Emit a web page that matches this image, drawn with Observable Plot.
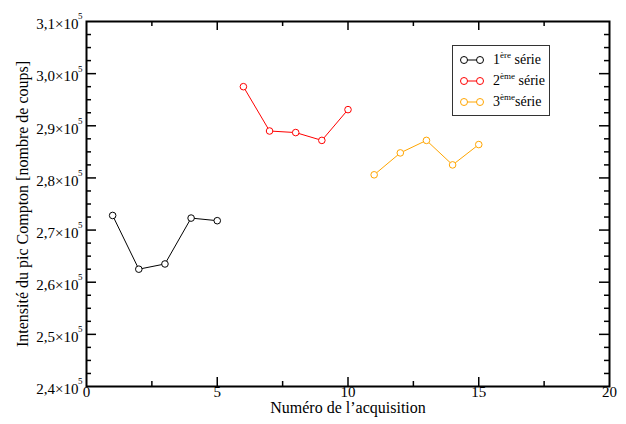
<!DOCTYPE html>
<html>
<head>
<meta charset="utf-8">
<script src="https://cdn.jsdelivr.net/npm/d3@7"></script>
<script src="https://cdn.jsdelivr.net/npm/@observablehq/plot@0.6"></script>
<style>
  html, body { margin: 0; padding: 0; background: #fff; }
  #wrap { position: relative; width: 626px; height: 424px; font-family: "Liberation Serif", "DejaVu Serif", serif; }
  #legend { position: absolute; left: 452px; top: 45px; width: 96px; height: 69px; border: 1.5px solid #333; background: #fff; box-sizing: content-box; }
  .row { position: absolute; left: 0; height: 20px; display: flex; align-items: center; font-size: 14px; white-space: nowrap; }
  .row svg { margin-left: 7px; margin-right: 9px; }
  .row sup { font-size: 9px; vertical-align: 0; position: relative; top: -6px; }
</style>
</head>
<body>
<div id="wrap"></div>
<script>
// Data
const acquisitions1 = [1, 2, 3, 4, 5];
const serie1 = [272800, 262500, 263500, 272300, 271800];
const acquisitions2 = [6, 7, 8, 9, 10];
const serie2 = [297500, 289000, 288700, 287200, 293100];
const acquisitions3 = [11, 12, 13, 14, 15];
const serie3 = [280600, 284800, 287200, 282500, 286400];
const seriesNames = ["1ère série", "2ème série", "3ème série"];
const seriesColors = ["#000000", "#ff0000", "#ffa500"];

const xMajor = [0, 5, 10, 15, 20];
const xMinor = [2.5, 7.5, 12.5, 17.5];
const yMajor = [240000, 250000, 260000, 270000, 280000, 290000, 300000, 310000];
const yMinor = d3.range(242500, 310000, 2500).filter(v => v % 10000 !== 0);

const rows = [
  ...acquisitions1.map((x, i) => ({x, y: serie1[i], s: 0})),
  ...acquisitions2.map((x, i) => ({x, y: serie2[i], s: 1})),
  ...acquisitions3.map((x, i) => ({x, y: serie3[i], s: 2}))
];

const W = 626, H = 424, mL = 86, mR = 17, mT = 21, mB = 38;
const pw = W - mL - mR, ph = H - mT - mB;
const fmtY = v => (v / 100000).toFixed(1).replace(".", ",") + "×10";

const lineMarks = [0, 1, 2].map(s => Plot.line(rows.filter(r => r.s === s), {x: "x", y: "y", stroke: seriesColors[s], strokeWidth: 1}));
const dotMarks = [0, 1, 2].map(s => Plot.dot(rows.filter(r => r.s === s), {x: "x", y: "y", r: 3.3, stroke: seriesColors[s], fill: "white", strokeWidth: 1}));

const chart = Plot.plot({
  width: W, height: H,
  marginLeft: mL, marginRight: mR, marginTop: mT, marginBottom: mB,
  style: {fontFamily: "'Liberation Serif', serif", background: "white"},
  x: {domain: [0, 20], axis: null},
  y: {domain: [240000, 310000], axis: null},
  marks: [
    // ticks bottom/top
    Plot.ruleX(xMajor.slice(1, -1), {insetTop: ph - 9, stroke: "black", strokeWidth: 1.5}),
    Plot.ruleX(xMinor, {insetTop: ph - 5, stroke: "black", strokeWidth: 1.5}),
    Plot.ruleX(xMajor.slice(1, -1), {insetBottom: ph - 9, stroke: "black", strokeWidth: 1.5}),
    Plot.ruleX(xMinor, {insetBottom: ph - 5, stroke: "black", strokeWidth: 1.5}),
    // ticks left/right
    Plot.ruleY(yMajor.slice(1, -1), {insetRight: pw - 10, stroke: "black", strokeWidth: 1.5}),
    Plot.ruleY(yMinor, {insetRight: pw - 5, stroke: "black", strokeWidth: 1.5}),
    Plot.ruleY(yMajor.slice(1, -1), {insetLeft: pw - 10, stroke: "black", strokeWidth: 1.5}),
    Plot.ruleY(yMinor, {insetLeft: pw - 5, stroke: "black", strokeWidth: 1.5}),
    Plot.frame({stroke: "black", strokeWidth: 2}),
    // tick labels
    Plot.text(xMajor, {x: d => d, frameAnchor: "bottom", dy: 10, text: d => String(d), fontSize: 15, fill: "black"}),
    Plot.text(yMajor, {y: d => d, frameAnchor: "left", dx: -8, dy: 3, textAnchor: "end", text: fmtY, fontSize: 15, fill: "black"}),
    Plot.text(yMajor, {y: d => d, frameAnchor: "left", dx: -4, dy: -5, textAnchor: "end", text: () => "5", fontSize: 9, fill: "black"}),
    // axis titles
    Plot.text(["Numéro de l’acquisition"], {frameAnchor: "bottom", dy: 26, text: d => d, fontSize: 16, fill: "black"}),
    Plot.text(["Intensité du pic Compton [nombre de coups]"], {frameAnchor: "left", textAnchor: "middle", dx: -64, rotate: -90, text: d => d, fontSize: 16, fill: "black"}),
    ...lineMarks,
    ...dotMarks
  ]
});

const wrap = document.getElementById("wrap");
wrap.appendChild(chart);

// Legend
const legend = document.createElement("div");
legend.id = "legend";
const labelsHTML = ["1<sup>ère</sup> série", "2<sup>ème</sup> série", "3<sup>ème</sup>série"];
seriesColors.forEach((c, i) => {
  const row = document.createElement("div");
  row.className = "row";
  row.style.top = (4 + i * 20.8) + "px";
  row.innerHTML = `<svg width="24" height="10"><line x1="4" y1="5" x2="20" y2="5" stroke="${c}" stroke-width="1"/><circle cx="4" cy="5" r="3.5" fill="white" stroke="${c}"/><circle cx="20" cy="5" r="3.5" fill="white" stroke="${c}"/></svg><span title="${seriesNames[i]}">${labelsHTML[i]}</span>`;
  legend.appendChild(row);
});
wrap.appendChild(legend);
</script>
</body>
</html>
